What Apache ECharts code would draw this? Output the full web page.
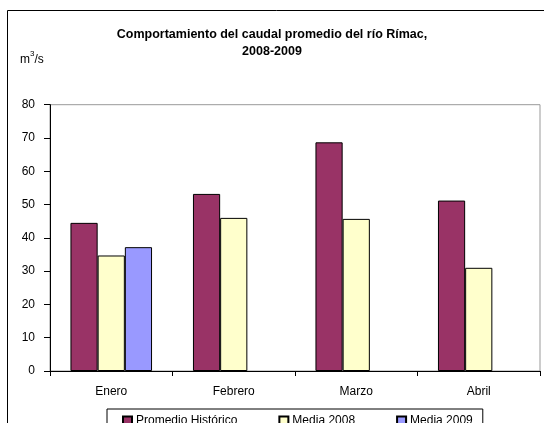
<!DOCTYPE html>
<html>
<head>
<meta charset="utf-8">
<script src="https://cdn.jsdelivr.net/npm/echarts@6/dist/echarts.min.js"></script>
<style>html,body{margin:0;padding:0;background:#fff}#c{width:544px;height:423px}</style>
</head>
<body>
<div id="c"></div>
<script>
var categories = ['Enero', 'Febrero', 'Marzo', 'Abril'];
var promedioHistorico = [44.5, 53.2, 68.7, 51.2];
var media2008 = [34.7, 46.0, 45.7, 31.0];
var media2009 = [37.2, null, null, null];
var yTicks = [0, 10, 20, 30, 40, 50, 60, 70, 80];
var seriesNames = ['Promedio Histórico', 'Media 2008', 'Media 2009'];
var colors = ['#993366', '#FFFFCC', '#9999FF'];

var font = 'Liberation Sans, Arial, sans-serif';
var chart = echarts.init(document.getElementById('c'), null, {renderer: 'canvas'});
function mk(name, data, color) {
  return {
    name: name, type: 'bar', data: data,
    barGap: '0%', barCategoryGap: '33.4%',
    itemStyle: {color: color, borderColor: '#000', borderWidth: 1},
    emphasis: {disabled: true}
  };
}
chart.setOption({
  animation: false,
  textStyle: {fontFamily: font},
  title: {
    text: 'Comportamiento del caudal promedio del río Rímac,\n2008-2009',
    left: 'center', top: 21,
    textStyle: {fontFamily: font, fontSize: 12.5, fontWeight: 'bold', color: '#000', lineHeight: 17}
  },
  graphic: [
    {type: 'rect', shape: {x: 7.5, y: 10.5, width: 700, height: 700}, style: {fill: 'none', stroke: '#000', lineWidth: 1}, silent: true},
    {type: 'text', left: 20, top: 50, style: {
      text: '{n|m}{s|3}{n|/s}',
      rich: {
        n: {fontFamily: font, fontSize: 12, fill: '#000', verticalAlign: 'bottom', lineHeight: 16},
        s: {fontFamily: font, fontSize: 8, fill: '#000', verticalAlign: 'top', lineHeight: 16, padding: [0, 0, 6, 0]}
      }
    }}
  ],
  legend: {
    data: seriesNames,
    left: 107, top: 409,
    padding: [6, 10, 8, 15],
    itemWidth: 9, itemHeight: 9, itemGap: 41,
    icon: 'rect',
    borderColor: '#000', borderWidth: 1,
    textStyle: {fontFamily: font, fontSize: 12, color: '#000', padding: [0, 0, 0, -1]}
  },
  grid: {left: 50, right: 4, top: 104.7, bottom: 52, show: true, borderColor: '#999', borderWidth: 1, containLabel: false},
  xAxis: {
    type: 'category', data: categories,
    axisLine: {lineStyle: {color: '#000', width: 1}},
    axisTick: {show: true, length: 5, lineStyle: {color: '#000'}},
    axisLabel: {fontFamily: font, fontSize: 12, color: '#000', margin: 15}
  },
  yAxis: {
    type: 'value', min: yTicks[0], max: yTicks[yTicks.length - 1], interval: 10,
    axisLine: {show: true, lineStyle: {color: '#000', width: 1}},
    axisTick: {show: true, length: 6, lineStyle: {color: '#000'}},
    axisLabel: {fontFamily: font, fontSize: 12, color: '#000', margin: 15},
    splitLine: {show: false}
  },
  series: [
    mk(seriesNames[0], promedioHistorico, colors[0]),
    mk(seriesNames[1], media2008, colors[1]),
    mk(seriesNames[2], media2009, colors[2])
  ]
});
</script>
</body>
</html>
